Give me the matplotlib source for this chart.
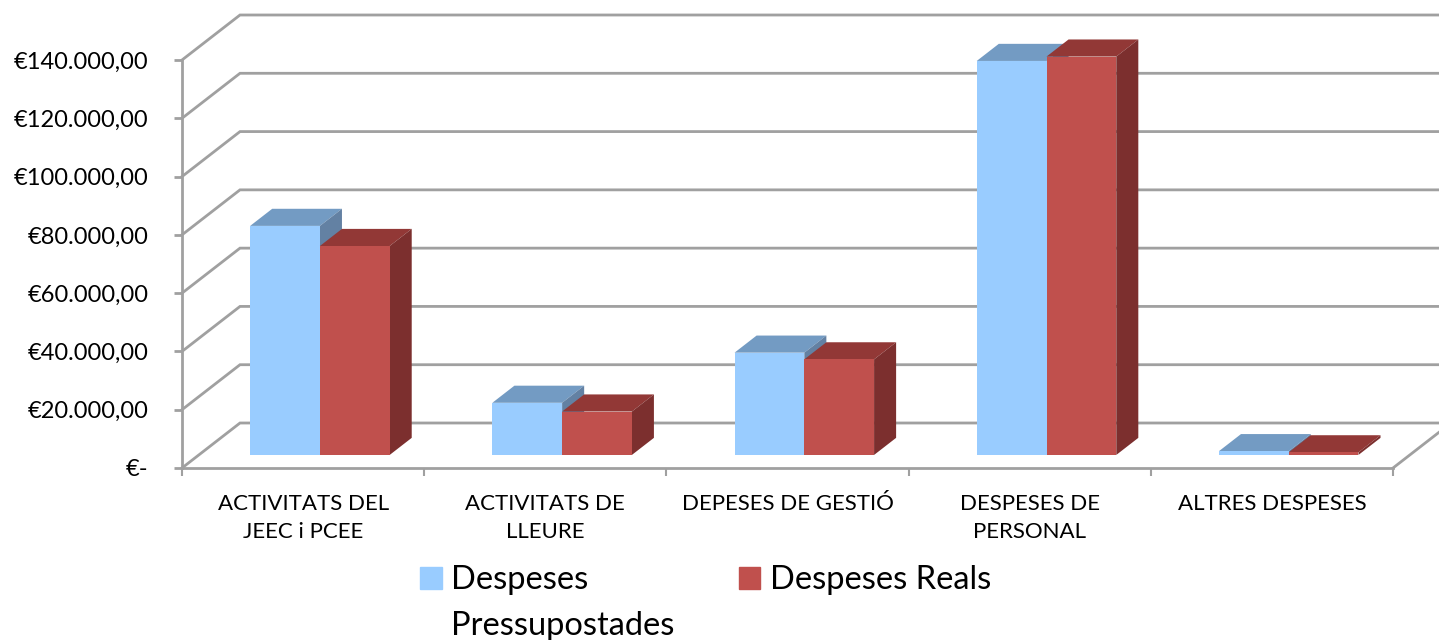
import numpy as np
import matplotlib
matplotlib.use("Agg")
import matplotlib.pyplot as plt
from matplotlib.patches import Polygon, Patch

plt.rcParams['font.family'] = ['Lato', 'DejaVu Sans']

# data
categories = ["ACTIVITATS DEL\nJEEC i PCEE", "ACTIVITATS DE\nLLEURE", "DEPESES DE GESTIÓ",
              "DESPESES DE\nPERSONAL", "ALTRES DESPESES"]
pressupostades = [78600, 17900, 35100, 135200, 1300]
reals = [71700, 14900, 32800, 136700, 900]
y_ticks = [0, 20000, 40000, 60000, 80000, 100000, 120000, 140000]
y_labels = ["€-", "€20.000,00", "€40.000,00", "€60.000,00", "€80.000,00",
            "€100.000,00", "€120.000,00", "€140.000,00"]

# colours: front, top, side
BLUE = ("#99ccff", "#739bc3", "#6381a3")
RED = ("#c0504d", "#923836", "#7c2f2e")
GRID = "#a0a0a0"

W, H = 1439, 640
fig = plt.figure(figsize=(W / 100, H / 100), dpi=100)
ax = fig.add_axes([182 / W, 1 - 468 / H, (1393 - 182) / W, (468 - 60) / H])
ax.set_xlim(-0.5, 4.5)
ax.set_ylim(0, 140000)

# fake 3d: depth of the floor expressed in data units
px_x = (1393 - 182) / 5
px_y = (468 - 60) / 140000
DX = 58 / px_x
DY = 45 / px_y
f_front, f_back = 0.29, 0.67
bw = 0.288
n = len(categories)

# back wall / side wall gridlines
for v in y_ticks:
    ax.plot([-0.5, -0.5 + DX, n - 0.5 + DX], [v, v + DY, v + DY], color=GRID, lw=2,
            clip_on=False, zorder=0, solid_joinstyle='miter')
ax.plot([n - 0.5, n - 0.5 + DX], [0, DY], color=GRID, lw=2, clip_on=False, zorder=0)

for s in ['top', 'right']:
    ax.spines[s].set_visible(False)
for s in ['left', 'bottom']:
    ax.spines[s].set_color(GRID)
    ax.spines[s].set_linewidth(2)

ax.set_yticks(y_ticks, y_labels)
ax.tick_params(axis='y', length=6, width=2, color=GRID, labelsize=17, pad=18)
ax.set_xticks(range(n), categories)
ax.set_xticks(np.arange(-0.5, n, 1), minor=True)
ax.tick_params(axis='x', which='major', length=0, labelsize=16, pad=19)
ax.tick_params(axis='x', which='minor', length=6, width=1.5, color=GRID)
for lab in ax.get_xticklabels():
    lab.set_linespacing(1.45)

# bars: front face with ax.bar, top and side as polygons
ddx = (f_back - f_front) * DX
ddy = (f_back - f_front) * DY
base = f_front * DY
for j, (vals, cols) in enumerate([(pressupostades, BLUE), (reals, RED)]):
    lefts = [i - bw + j * bw + f_front * DX for i in range(n)]
    z = 2 + 2 * j
    for x0, v in zip(lefts, vals):
        top = [(x0, base + v), (x0 + ddx, base + v + ddy),
               (x0 + bw + ddx, base + v + ddy), (x0 + bw, base + v)]
        side = [(x0 + bw, base), (x0 + bw + ddx, base + ddy),
                (x0 + bw + ddx, base + v + ddy), (x0 + bw, base + v)]
        ax.add_patch(Polygon(top, closed=True, fc=cols[1], ec='none', zorder=z, clip_on=False))
        ax.add_patch(Polygon(side, closed=True, fc=cols[2], ec='none', zorder=z, clip_on=False))
    ax.bar(lefts, vals, width=bw, bottom=base, align='edge', color=cols[0],
           zorder=z + 1, clip_on=False)

handles = [Patch(color=BLUE[0]), Patch(color=RED[0])]
leg = fig.legend(handles, ["Despeses", "Despeses Reals"], ncol=2, loc='upper left',
                 bbox_to_anchor=(420 / W, 1 - 565 / H), frameon=False, fontsize=23.5,
                 handlelength=0.66, handleheight=0.66, handletextpad=0.3,
                 columnspacing=4.6, borderpad=0, borderaxespad=0)

fig.canvas.draw()
bb = leg.get_texts()[0].get_window_extent()
fig.text(bb.x0 / W, (bb.y0 - 46) / H, "Pressupostades", fontsize=23.5, va='bottom')

fig.savefig("out.png", dpi=100)
